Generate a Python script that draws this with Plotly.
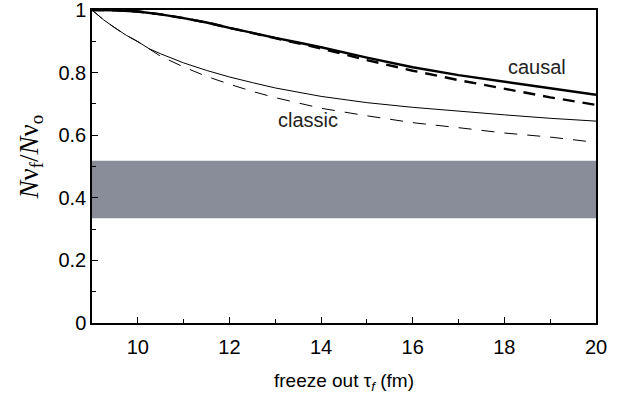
import plotly.graph_objects as go

# freeze-out time (fm)
tau_causal = [9, 9.5, 10, 10.5, 11, 11.5, 12, 12.5, 13, 13.5, 14, 15, 16, 17, 18, 19, 20]
causal_solid = [1.0, 0.999, 0.995, 0.986, 0.974, 0.96, 0.943, 0.926, 0.911, 0.896, 0.881, 0.848, 0.817, 0.792, 0.770, 0.750, 0.729]
causal_dashed = [1.0, 0.999, 0.995, 0.986, 0.974, 0.96, 0.943, 0.926, 0.909, 0.893, 0.877, 0.840, 0.806, 0.776, 0.748, 0.721, 0.697]

tau_classic = [9, 9.25, 9.5, 9.75, 10, 10.25, 10.5, 11, 11.5, 12, 12.5, 13, 14, 15, 16, 17, 18, 19, 20]
classic_solid = [1.0, 0.969, 0.943, 0.919, 0.899, 0.876, 0.86, 0.831, 0.807, 0.786, 0.768, 0.751, 0.724, 0.704, 0.689, 0.676, 0.665, 0.654, 0.645]
classic_dashed = [1.0, 0.969, 0.943, 0.919, 0.899, 0.875, 0.852, 0.818, 0.788, 0.763, 0.740, 0.720, 0.686, 0.662, 0.640, 0.624, 0.607, 0.594, 0.577]

band_range = [0.335, 0.518]
x_ticks = [10, 12, 14, 16, 18, 20]
y_ticks = [0, 0.2, 0.4, 0.6, 0.8, 1.0]
y_tick_labels = ["0", "0.2", "0.4", "0.6", "0.8", "1"]
y_title = "<i>N</i>ν<sub>f</sub>/<i>N</i>ν<sub>o</sub>"
x_title = "freeze out τ<sub><i>f</i></sub> (fm)"

fig = go.Figure()

fig.add_shape(type="rect", xref="x", yref="y", x0=9, x1=20, y0=band_range[0], y1=band_range[1],
              fillcolor="#898d9a", line_width=0, layer="below")

fig.add_trace(go.Scatter(x=tau_causal, y=causal_solid, mode="lines",
                         line=dict(color="black", width=2.4), showlegend=False))
fig.add_trace(go.Scatter(x=tau_causal, y=causal_dashed, mode="lines",
                         line=dict(color="black", width=2.4, dash="12px,8px"), showlegend=False))
fig.add_trace(go.Scatter(x=tau_classic, y=classic_solid, mode="lines",
                         line=dict(color="black", width=1), showlegend=False))
fig.add_trace(go.Scatter(x=tau_classic, y=classic_dashed, mode="lines",
                         line=dict(color="black", width=1, dash="13px,10px"), showlegend=False))

fig.add_annotation(x=18.72, y=0.818, text="causal", showarrow=False,
                   font=dict(family="Liberation Sans, Arial", size=20, color="#222"))
fig.add_annotation(x=13.72, y=0.65, text="classic", showarrow=False,
                   font=dict(family="Liberation Sans, Arial", size=20, color="#222"))

# y-axis title (placed as rotated text to match the reference position)
fig.add_annotation(xref="paper", yref="paper", x=-0.121, y=0.529, text=y_title,
                   textangle=-90, showarrow=False, xanchor="center", yanchor="middle",
                   font=dict(family="Liberation Serif, Times New Roman", size=27, color="black"))

axis_common = dict(showline=True, linecolor="black", linewidth=1.5, mirror=True,
                   ticks="inside", ticklen=6, tickwidth=1.2, tickcolor="black",
                   showgrid=False, zeroline=False, automargin=False,
                   ticklabeloverflow="allow",
                   tickfont=dict(family="Liberation Sans, Arial", size=20, color="black"))

fig.update_xaxes(range=[9, 20], tickvals=x_ticks, ticklabelstandoff=5,
                 minor=dict(ticks="inside", ticklen=4, tickwidth=1, tickcolor="black", dtick=1, tick0=9, showgrid=False),
                 title=dict(text=x_title,
                            font=dict(family="Liberation Sans, Arial", size=19, color="black"), standoff=17),
                 **axis_common)
fig.update_yaxes(range=[0, 1], tickvals=y_ticks, ticktext=y_tick_labels,
                 minor=dict(ticks="inside", ticklen=4, tickwidth=1, tickcolor="black", dtick=0.1, tick0=0, showgrid=False),
                 **axis_common)

fig.update_layout(width=632, height=403, margin=dict(l=92, r=36, t=10, b=80),
                  plot_bgcolor="white", paper_bgcolor="white")

fig.write_html("out.html", config={"displayModeBar": False},
               post_script="document.body.style.margin='0px';")
